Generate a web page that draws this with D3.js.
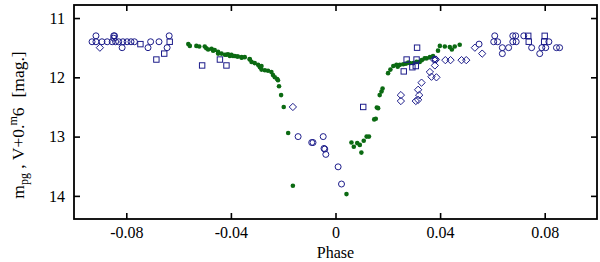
<!DOCTYPE html>
<html><head><meta charset="utf-8">
<script src="https://cdn.jsdelivr.net/npm/d3@7"></script>
<style>html,body{margin:0;padding:0;background:#fff;}svg{display:block;font-family:"Liberation Serif","DejaVu Serif",serif;}</style>
</head><body>
<svg id="c" width="600" height="262"></svg>
<script>
// Filled green points (phase, mag)
const greenPhase = [-0.0563,-0.0557,-0.0532,-0.0521,-0.0500,-0.0494,-0.0487,-0.0474,-0.0468,-0.0462,-0.0449,-0.0449,-0.0436,-0.0423,-0.0417,-0.0411,-0.0404,-0.0398,-0.0392,-0.0385,-0.0376,-0.0373,-0.0359,-0.0359,-0.0347,-0.0328,-0.0328,-0.0321,-0.0309,-0.0296,-0.0289,-0.0283,-0.0283,-0.0270,-0.0258,-0.0245,-0.0239,-0.0232,-0.0223,-0.0220,-0.0216,-0.0208,-0.0198,-0.0181,-0.0163,
  0.0042,0.0061,0.0070,0.0083,0.0093,0.0099,0.0108,0.0119,0.0128,0.0148,0.0154,0.0158,0.0163,0.0169,0.0176,0.0180,0.0201,0.0210,0.0221,0.0233,0.0238,0.0246,0.0259,0.0269,0.0278,0.0284,0.0297,0.0310,0.0322,0.0330,0.0341,0.0349,0.0361,0.0373,0.0392,0.0399,0.0418,0.0437,0.0445,0.0456,0.0475];
const greenMag = [11.44,11.47,11.47,11.48,11.48,11.51,11.53,11.52,11.55,11.54,11.57,11.60,11.60,11.62,11.62,11.61,11.64,11.62,11.64,11.64,11.65,11.65,11.66,11.67,11.66,11.69,11.70,11.74,11.76,11.79,11.83,11.81,11.87,11.88,11.89,11.91,11.96,12.00,12.03,12.05,12.15,12.30,12.50,12.94,13.83,
  13.97,13.10,13.17,13.11,13.14,13.27,13.07,13.00,13.00,12.71,12.70,12.51,12.52,12.30,12.24,12.19,11.93,11.87,11.81,11.79,11.82,11.79,11.78,11.77,11.75,11.76,11.76,11.74,11.74,11.71,11.68,11.68,11.66,11.64,11.55,11.47,11.48,11.49,11.53,11.48,11.45];

// Open blue circles
const circlePhase = [-0.0931,-0.0916,-0.0893,-0.0873,-0.0854,-0.0841,-0.0829,-0.0813,-0.0797,-0.0782,-0.0769,-0.0707,-0.0675,
  -0.0916,-0.0848,-0.0845,-0.0848,-0.0636,-0.0816,-0.0717,-0.0644,
  -0.0143,-0.0091,-0.0086,-0.0047,-0.0044,-0.0041,-0.0037,0.0010,0.0023,0.0381,
  0.0549,0.0605,0.0609,0.0620,0.0638,0.0638,0.0662,0.0678,0.0678,0.0689,0.0691,0.0720,0.0750,0.0781,0.0789,0.0804,0.0816,0.0845,0.0857];
const circleMag = [11.40,11.40,11.40,11.40,11.40,11.40,11.40,11.40,11.40,11.40,11.40,11.40,11.40,
  11.30,11.30,11.30,11.34,11.30,11.50,11.50,11.50,
  13.00,13.10,13.10,13.00,13.20,13.21,13.30,13.51,13.80,11.70,
  11.44,11.40,11.30,11.40,11.50,11.60,11.50,11.30,11.40,11.30,11.40,11.30,11.50,11.60,11.50,11.50,11.40,11.50,11.50];

// Open blue squares
const squarePhase = [-0.0746,-0.0685,-0.0655,-0.0634,-0.0510,-0.0442,-0.0417,0.0106,0.0261,0.0272,0.0294,0.0307,0.0310,0.0312,0.0737,0.0739,0.0800,0.0798];
const squareMag = [11.44,11.70,11.60,11.40,11.80,11.70,11.80,12.50,11.90,11.70,11.83,11.81,11.70,11.50,11.30,11.40,11.30,11.40];

// Open blue diamonds
const diamondPhase = [-0.0901,-0.0163,0.0250,0.0250,0.0307,0.0316,0.0320,0.0316,0.0329,0.0361,0.0367,0.0386,0.0380,0.0376,0.0384,0.0420,0.0440,0.0482,0.0500,0.0533,0.0561];
const diamondMag = [11.50,12.50,12.30,12.40,12.40,12.38,12.30,12.21,12.09,11.91,11.99,12.00,11.80,11.70,11.70,11.71,11.71,11.71,11.71,11.50,11.60];

const xTicks = [-0.08,-0.04,0,0.04,0.08];
const yTicks = [11,12,13,14];

const svg = d3.select("#c");
const L=74, R=597, T=5, B=219;
const x = d3.scaleLinear().domain([-0.1,0.1]).range([L,R]);
const y = d3.scaleLinear().domain([10.78,14.39]).range([T,B]);
const blue = "#1c1c8a", green = "#0b6a12";

const fmtX = d => d===0 ? "0" : d3.format(".2f")(d).replace("\u2212","-");

// axes
const axB = d3.axisBottom(x).tickValues(xTicks).tickSize(-6).tickPadding(8).tickFormat(fmtX);
const axT = d3.axisTop(x).tickValues(xTicks).tickSize(-6).tickFormat("");
const axL = d3.axisLeft(y).tickValues(yTicks).tickSize(-6).tickPadding(9).tickFormat(d3.format("d"));
const axR = d3.axisRight(y).tickValues(yTicks).tickSize(-6).tickFormat("");
function style(g){g.attr("font-family",null);g.select(".domain").remove();g.selectAll("line").attr("stroke","#000").attr("stroke-width",1.6);
  g.selectAll("text").attr("font-family","'Liberation Serif',serif").attr("font-size",16).attr("fill","#000");}
svg.append("g").attr("transform",`translate(0,${B})`).call(axB).call(style);
svg.append("g").attr("transform",`translate(0,${T})`).call(axT).call(style);
svg.append("g").attr("transform",`translate(${L},0)`).call(axL).call(style);
svg.append("g").attr("transform",`translate(${R},0)`).call(axR).call(style);

svg.append("rect").attr("x",L).attr("y",T).attr("width",R-L).attr("height",B-T)
  .attr("fill","none").attr("stroke","#000").attr("stroke-width",1.8);

// data
const g = svg.append("g");
g.selectAll(".gr").data(greenPhase.map((p,i)=>[p,greenMag[i]])).join("circle")
  .attr("cx",d=>x(d[0])).attr("cy",d=>y(d[1])).attr("r",2.3).attr("fill",green);
g.selectAll(".ci").data(circlePhase.map((p,i)=>[p,circleMag[i]])).join("circle")
  .attr("cx",d=>x(d[0])).attr("cy",d=>y(d[1])).attr("r",3).attr("fill","none").attr("stroke",blue).attr("stroke-width",1);
g.selectAll(".sq").data(squarePhase.map((p,i)=>[p,squareMag[i]])).join("rect")
  .attr("x",d=>x(d[0])-2.7).attr("y",d=>y(d[1])-2.7).attr("width",5.4).attr("height",5.4)
  .attr("fill","none").attr("stroke",blue).attr("stroke-width",1);
const dia = d3.symbol().type(d3.symbolDiamond2).size(34);
g.selectAll(".di").data(diamondPhase.map((p,i)=>[p,diamondMag[i]])).join("path")
  .attr("d",dia).attr("transform",d=>`translate(${x(d[0])},${y(d[1])})`)
  .attr("fill","none").attr("stroke",blue).attr("stroke-width",1);

// labels
svg.append("text").attr("x",(x(0))).attr("y",257.5).attr("text-anchor","middle")
  .attr("font-size",16).text("Phase");
const yl = svg.append("text").attr("transform","translate(24,125) rotate(-90)").attr("text-anchor","middle").attr("font-size",17.5).attr("xml:space","preserve");
yl.append("tspan").text("m");
yl.append("tspan").attr("font-size",12).attr("dy",4).text("pg");
yl.append("tspan").attr("dy",-4).text(" , V+0.");
yl.append("tspan").attr("font-size",12).attr("dy",-7).attr("dx",-1).text("m");
yl.append("tspan").attr("dy",7).text("6");
yl.append("tspan").attr("dx",10).text("[mag.]");
</script>
</body></html>
